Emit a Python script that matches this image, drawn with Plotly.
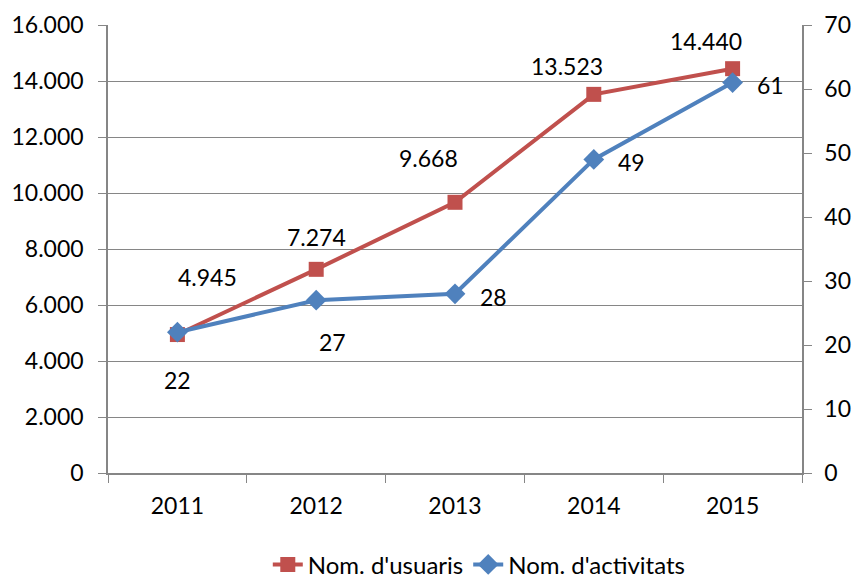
import plotly.graph_objects as go

years = ["2011", "2012", "2013", "2014", "2015"]
usuaris = [4945, 7274, 9668, 13523, 14440]
activitats = [22, 27, 28, 49, 61]

red = "#C0504D"
blue = "#4F81BD"
font = "Lato, 'Open Sans', sans-serif"

fig = go.Figure()
fig.add_trace(go.Scatter(x=years, y=usuaris, name="Nom. d'usuaris", mode="lines+markers",
                         line=dict(color=red, width=4),
                         marker=dict(symbol="square", size=15, color=red)))
fig.add_trace(go.Scatter(x=years, y=activitats, name="Nom. d'activitats", mode="lines+markers",
                         yaxis="y2", line=dict(color=blue, width=4),
                         marker=dict(symbol="diamond", size=16, color=blue)))

# data labels (x given as category index)
red_shift = [(30, 58), (0, 32), (-27, 44), (-27, 28), (-27, 28)]
for i, (v, (dx, dy)) in enumerate(zip(usuaris, red_shift)):
    fig.add_annotation(x=i, y=v, xref="x", yref="y", text=f"{v:,}".replace(",", "."),
                       showarrow=False, xshift=dx, yshift=dy,
                       font=dict(size=23, color="black", family=font))
blue_shift = [(0, -48), (16, -42), (38, -3), (38, -3), (38, -2)]
for i, (v, (dx, dy)) in enumerate(zip(activitats, blue_shift)):
    fig.add_annotation(x=i, y=v, xref="x", yref="y2", text=str(v), showarrow=False,
                       xshift=dx, yshift=dy, font=dict(size=23, color="black", family=font))

axis_col = "#868686"
fig.update_layout(
    width=856, height=584,
    margin=dict(l=108, r=54, t=25, b=111, autoexpand=False),
    plot_bgcolor="white", paper_bgcolor="white",
    separators=",.",
    font=dict(family=font, size=23, color="black"),
    xaxis=dict(type="category", categoryorder="array", categoryarray=years,
               range=[-0.5, 4.5], autorange=False, automargin=False,
               showline=True, linecolor=axis_col, linewidth=1.5,
               ticks="outside", tickson="boundaries", ticklen=8, tickcolor=axis_col,
               ticklabelstandoff=12, showgrid=False, tickangle=0),
    yaxis=dict(range=[0, 16000], dtick=2000, tickformat=",d", showline=True,
               automargin=False, linecolor=axis_col, linewidth=1.5, ticks="outside",
               ticklen=8, tickcolor=axis_col, ticklabelstandoff=10,
               gridcolor=axis_col, gridwidth=1, zeroline=False),
    yaxis2=dict(range=[0, 70], dtick=10, overlaying="y", side="right", showline=True,
                automargin=False, linecolor=axis_col, linewidth=1.5, ticks="outside",
                ticklen=8, tickcolor=axis_col, ticklabelstandoff=8,
                showgrid=False, zeroline=False),
    legend=dict(orientation="h", x=0.535, xanchor="center", y=-0.205, yanchor="middle",
                font=dict(size=24)),
    showlegend=True,
)

fig.write_html("out.html", config={"displayModeBar": False},
               post_script="document.body.style.margin='0';")
